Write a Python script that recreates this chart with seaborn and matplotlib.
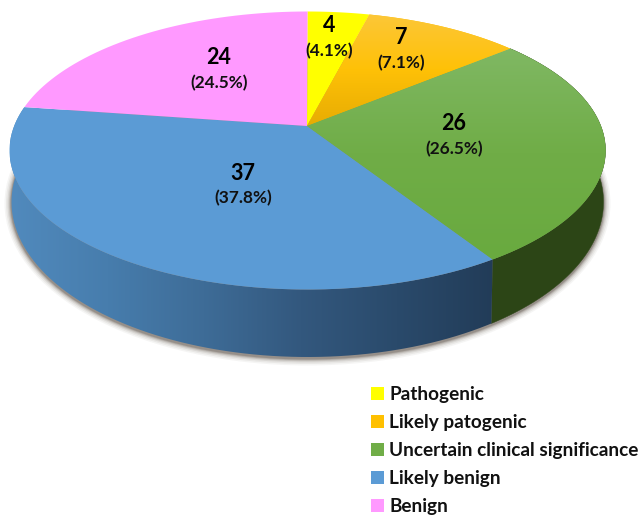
import numpy as np
import matplotlib
matplotlib.use("Agg")
import matplotlib.pyplot as plt
import seaborn as sns
from matplotlib.transforms import Transform
from matplotlib.path import Path
from matplotlib.patches import PathPatch, Ellipse
from matplotlib.colors import LinearSegmentedColormap

# ---- data ----
categories = ["Pathogenic", "Likely patogenic", "Uncertain clinical significance", "Likely benign", "Benign"]
counts = [4, 7, 26, 37, 24]
colors = ["#FFFF00", "#FFC000", "#70AD47", "#5B9BD5", "#FF99FF"]

# ---- layout of the tilted disc, in image pixels ----
W, H = 641, 515
APEX = (307, 126)
TOP = dict(cx=307.5, cy=150.5, rx=298, ry=139)
BOTTOM = dict(cx=307.5, cy=202, rx=296, ry=155)
RIM_ANGLES = [0, 12, 42.9, 141.6, 288.2, 360]   # where slice borders meet the rim in the picture
LABEL_POS = [(329, 26, 51), (401, 38, 63), (454, 124, 149), (243, 173, 198), (219, 57, 83)]

cum = np.concatenate([[0], np.cumsum(counts)]) / np.sum(counts) * 360


class DiscWarp(Transform):
    """Maps the unit-circle pie onto a perspective ellipse whose apex is off-centre."""
    input_dims = output_dims = 2
    is_separable = False
    has_inverse = False

    def __init__(self, cx, cy, rx, ry, apex):
        super().__init__()
        self.e = (cx, cy, rx, ry)
        self.apex = apex

    def transform_non_affine(self, values):
        v = np.asarray(values, float)
        x, y = v[:, 0], v[:, 1]
        r = np.hypot(x, y)
        clock = np.degrees(np.arctan2(x, y)) % 360
        th = np.radians(np.interp(clock, cum, RIM_ANGLES))
        cx, cy, rx, ry = self.e
        ex, ey = cx + rx * np.sin(th), cy - ry * np.cos(th)
        return np.column_stack([self.apex[0] + r * (ex - self.apex[0]),
                                self.apex[1] + r * (ey - self.apex[1])])

    def transform_path_non_affine(self, path):
        pts = []
        t = np.linspace(0, 1, 24)
        for seg, code in path.iter_bezier():
            if code == Path.MOVETO:
                continue
            pts.append(seg(t))
        pts = np.vstack(pts)
        return Path(self.transform_non_affine(pts))


sns.set_theme(style="white")
plt.rcParams["font.family"] = ["Lato", "DejaVu Sans"]

fig = plt.figure(figsize=(W / 100, H / 100), dpi=100)
ax = fig.add_axes([0, 0, 1, 1])

wedges, _ = ax.pie(counts, colors=sns.color_palette(colors), startangle=90, counterclock=False, radius=1)
ax.set_aspect("auto")
ax.set_xlim(0, W)
ax.set_ylim(H, 0)
ax.axis("off")

top_warp = DiscWarp(apex=APEX, **TOP)
bot_warp = DiscWarp(apex=(BOTTOM["cx"], APEX[1] + 58), **BOTTOM)

for w in wedges:
    w.set_transform(top_warp + ax.transData)
    w.set_linewidth(0)
    w.set_zorder(3)


def band(i):
    """Side wall of slice i: between the rim of the top face and the rim of the base."""
    a = np.radians(np.linspace(cum[i], cum[i + 1], 160))
    unit = np.column_stack([np.sin(a), np.cos(a)])
    t, b = top_warp.transform_non_affine(unit), bot_warp.transform_non_affine(unit)
    return Path(np.vstack([t, b[::-1], t[:1]]))


def grad(stops, horizontal, extent, clip, z):
    cmap = LinearSegmentedColormap.from_list("g", stops)
    g = np.linspace(0, 1, 256)
    g = g[None, :] if horizontal else g[:, None]
    im = ax.imshow(g, cmap=cmap, extent=extent, aspect="auto", zorder=z, origin="upper", interpolation="bilinear")
    if isinstance(clip, Path):
        im.set_clip_path(clip, transform=ax.transData)
    else:
        im.set_clip_path(clip)
    return im


# soft shadow under the base
for e, a in zip([7, 5.5, 4, 2.8, 1.8, 1], [.05, .07, .10, .14, .18, .25]):
    ax.add_patch(Ellipse((BOTTOM["cx"], BOTTOM["cy"] + 1.5), 2 * (BOTTOM["rx"] + e), 2 * (BOTTOM["ry"] + e),
                         fc="#4d4238", ec="none", alpha=a, zorder=0.5))

# walls
ax.add_patch(PathPatch(band(2), fc="#2C4516", ec="#2C4516", lw=0.3, zorder=1))
blue_wall = band(3)
grad(["#518ABD", "#477DAD", "#3E6C97", "#33587E", "#2A4A6B", "#223C58"], True, (10, 495, 370, 100), blue_wall, 1.2)

# lighting on the top faces
grad(["#FCC73A", "#FFC107", "#E7AC03"], False, (300, 520, 126, 12), wedges[1], 3.5)
grad(["#80B864", "#70AD47", "#69AA3F"], False, (300, 610, 260, 45), wedges[2], 3.5)
ax.set_xlim(0, W)
ax.set_ylim(H, 0)

# value labels
total = sum(counts)
for c, (x, y1, y2) in zip(counts, LABEL_POS):
    ax.text(x, y1, str(c), ha="center", va="center", fontsize=15.5, fontweight="bold", color="black", zorder=6)
    ax.text(x, y2, f"({c / total * 100:.1f}%)", ha="center", va="center", fontsize=12.4, fontweight="bold",
            color="#111111", zorder=6)

# legend
fs = 13.7
leg = ax.legend(wedges, categories, loc="upper left", bbox_to_anchor=(371 / W, 1 - 386 / H), frameon=False,
                prop=dict(family="Lato", weight="bold", size=fs), handlelength=0.68, handleheight=0.68,
                handletextpad=0.27, labelspacing=0.58, borderpad=0, borderaxespad=0)
for t in leg.get_texts():
    t.set_color("#111111")
for h, c in zip(leg.get_patches(), colors):
    h.set_facecolor(c)
    h.set_linewidth(0)

fig.savefig("out.png", dpi=100, facecolor="white")
